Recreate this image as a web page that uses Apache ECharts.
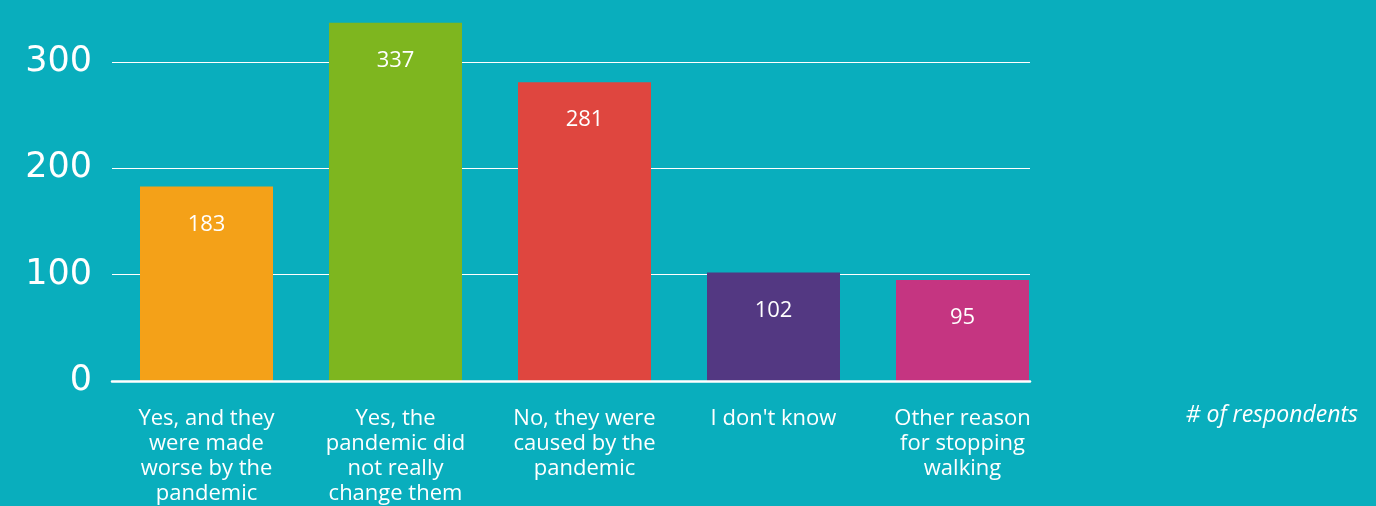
<!DOCTYPE html>
<html>
<head>
<meta charset="utf-8">
<script src="https://cdn.jsdelivr.net/npm/echarts@6/dist/echarts.min.js"></script>
<style>
html,body{margin:0;padding:0;background:#09aebd;}
#chart{width:1376px;height:506px;}
</style>
</head>
<body>
<div id="chart"></div>
<script>
const categories = [
  "Yes, and they\nwere made\nworse by the\npandemic",
  "Yes, the\npandemic did\nnot really\nchange them",
  "No, they were\ncaused by the\npandemic",
  "I don't know",
  "Other reason\nfor stopping\nwalking"
];
const values = [183, 337, 281, 102, 95];
const barColors = ["#f4a118", "#7eb61f", "#df463f", "#533882", "#c53581"];
const yTicks = [0, 100, 200, 300];
const unitLabel = "# of respondents";

const FONT = "'Open Sans', sans-serif";
const chart = echarts.init(document.getElementById('chart'));
chart.setOption({
  backgroundColor: '#09aebd',
  animation: false,
  grid: [
    {left: 112, width: 918, top: 62, height: 319},
    {left: 112, width: 945, top: 62, height: 319}
  ],
  xAxis: [
    {gridIndex: 0, type: 'value', min: 0, max: 1, z: 5,
     axisLine: {show: true, onZero: false, lineStyle: {color: '#ffffff', width: 2.5}},
     axisTick: {show: false}, axisLabel: {show: false}, splitLine: {show: false}},
    {gridIndex: 1, type: 'category', data: categories,
     axisLine: {show: false}, axisTick: {show: false},
     axisLabel: {interval: 0, color: '#ffffff', fontFamily: FONT, fontSize: 22,
       lineHeight: 25, margin: 25, align: 'center'}}
  ],
  yAxis: [
    {gridIndex: 0, type: 'value', min: yTicks[0], max: yTicks[yTicks.length - 1], interval: 100, z: 0,
     axisLine: {show: false}, axisTick: {show: false},
     axisLabel: {color: '#ffffff', fontFamily: "'DejaVu Sans', sans-serif", fontSize: 35, margin: 20},
     splitLine: {lineStyle: {color: '#ffffff', width: 1}}},
    {gridIndex: 1, type: 'value', min: yTicks[0], max: yTicks[yTicks.length - 1], show: false,
     splitLine: {show: false}}
  ],
  series: [{
    type: 'bar', xAxisIndex: 1, yAxisIndex: 1, clip: false, barWidth: 133,
    data: values.map((v, i) => ({value: v, itemStyle: {color: barColors[i]}})),
    label: {show: true, position: 'insideTop', distance: 27, color: '#ffffff',
      fontFamily: FONT, fontSize: 22}
  }],
  graphic: [{
    type: 'text', right: 18, top: 404,
    style: {text: unitLabel, fill: '#ffffff', font: 'italic 23px ' + FONT}
  }]
});
</script>
</body>
</html>
